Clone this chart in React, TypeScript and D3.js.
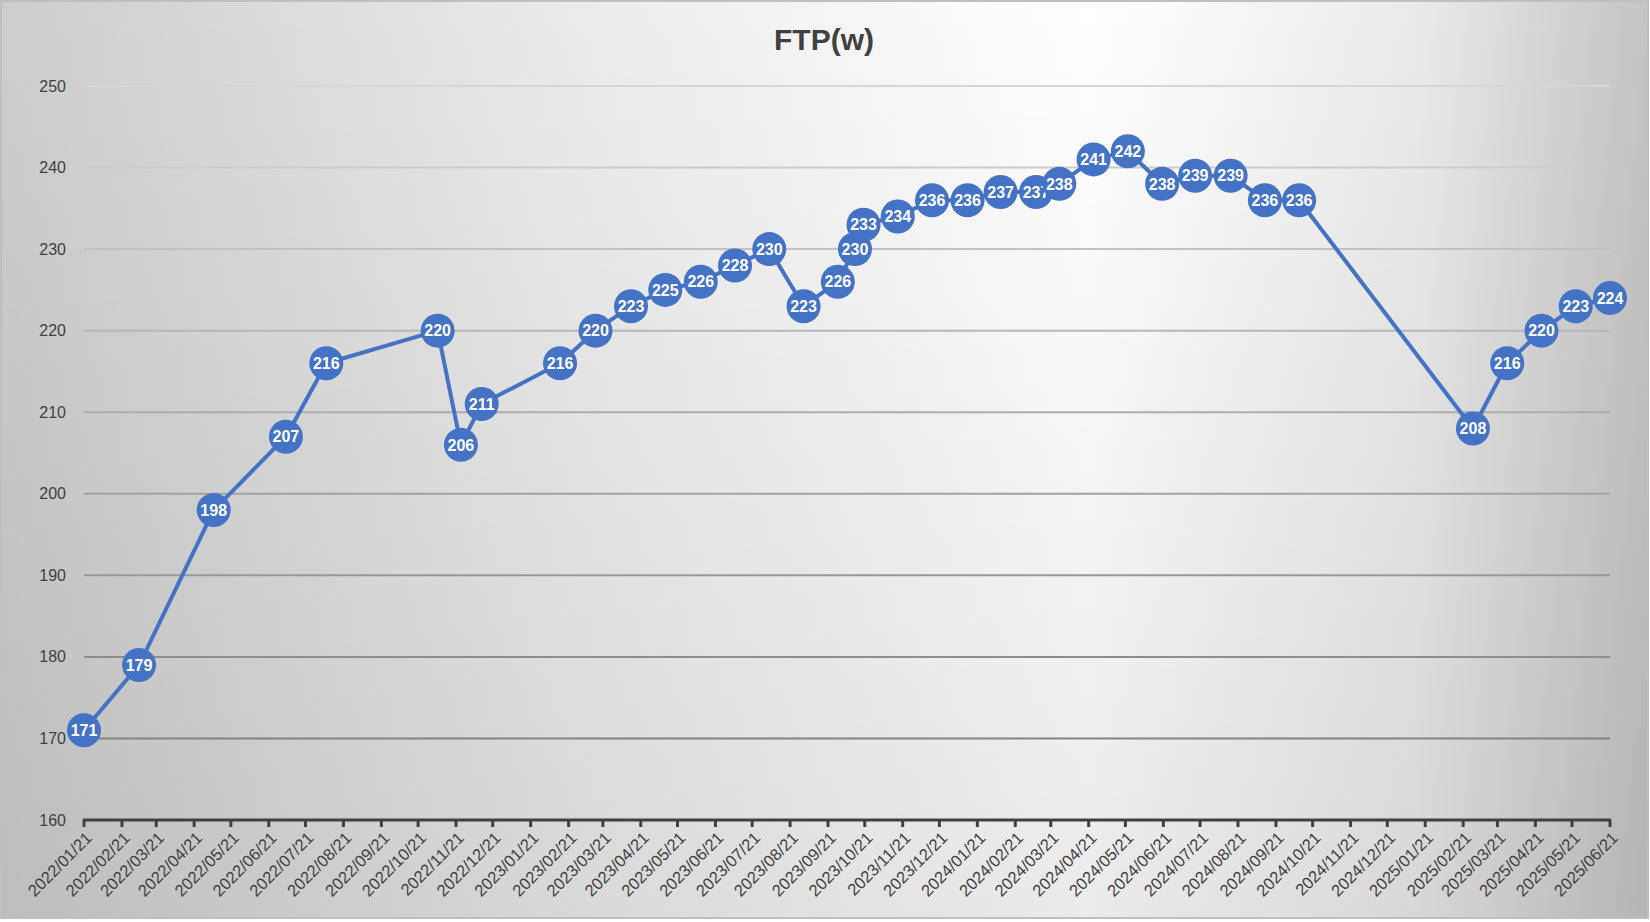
import React from "react";
import * as d3 from "d3";

// FTP test dates and results
const testDates = [
  "2022-01-21", "2022-03-07", "2022-05-07", "2022-07-05", "2022-08-07",
  "2022-11-06", "2022-11-25", "2022-12-12", "2023-02-14", "2023-03-15",
  "2023-04-13", "2023-05-11", "2023-06-09", "2023-07-07", "2023-08-04",
  "2023-09-01", "2023-09-29", "2023-10-13", "2023-10-20", "2023-11-17",
  "2023-12-15", "2024-01-13", "2024-02-09", "2024-03-09", "2024-03-28",
  "2024-04-25", "2024-05-23", "2024-06-20", "2024-07-17", "2024-08-15",
  "2024-09-12", "2024-10-10", "2025-03-01", "2025-03-29", "2025-04-26",
  "2025-05-24", "2025-06-21",
];
const ftpValues = [
  171, 179, 198, 207, 216, 220, 206, 211, 216, 220,
  223, 225, 226, 228, 230, 223, 226, 230, 233, 234,
  236, 236, 237, 237, 238, 241, 242, 238, 239, 239,
  236, 236, 208, 216, 220, 223, 224,
];
const yTicks = [160, 170, 180, 190, 200, 210, 220, 230, 240, 250];
const axisStart = "2022-01-21";
const axisEnd = "2025-06-21";
const title = "FTP(w)";

const W = 1650;
const H = 922;
const FONT = "'Liberation Sans', Arial, sans-serif";

const App: React.FC = () => {
  const parse = d3.timeParse("%Y-%m-%d");
  const fmt = d3.timeFormat("%Y/%m/%d");
  const start = parse(axisStart) as Date;
  const end = parse(axisEnd) as Date;

  const x = d3.scaleTime().domain([start, end]).range([84, 1610]);
  const y = d3.scaleLinear().domain([160, 250]).range([820, 86]);

  // monthly ticks on the 21st, like the excel date axis
  const monthCount = d3.timeMonth.count(start, end);
  const xTicks = d3.range(monthCount + 1).map((i) => d3.timeMonth.offset(start, i));

  const points = testDates.map((d, i) => ({ date: parse(d) as Date, value: ftpValues[i] }));

  const line = d3
    .line<{ date: Date; value: number }>()
    .x((d) => x(d.date))
    .y((d) => y(d.value));

  return (
    <div style={{ position: "absolute", left: 0, top: 0 }}>
      <svg width={W} height={H} style={{ display: "block" }}>
        <defs>
          <linearGradient id="bgH" x1="0" x2="1" y1="0" y2="0">
            <stop offset="0" stopColor="#cdcdcd" />
            <stop offset="0.35" stopColor="#ebebeb" />
            <stop offset="0.66" stopColor="#ffffff" />
            <stop offset="0.86" stopColor="#eaeaea" />
            <stop offset="1" stopColor="#c4c4c4" />
          </linearGradient>
          <linearGradient id="bgV" x1="0" x2="0" y1="0" y2="1">
            <stop offset="0" stopColor="#000" stopOpacity="0" />
            <stop offset="1" stopColor="#000" stopOpacity="0.08" />
          </linearGradient>
          <linearGradient
            id="gridGrad"
            gradientUnits="userSpaceOnUse"
            x1="0"
            x2="0"
            y1={y(250)}
            y2={y(170)}
          >
            <stop offset="0" stopColor="#d6d6d6" />
            <stop offset="1" stopColor="#838383" />
          </linearGradient>
        </defs>

        <rect x={0} y={0} width={W} height={H} fill="#fff" />
        <rect x={1} y={1} width={1647} height={917} fill="url(#bgH)" />
        <rect x={1} y={1} width={1647} height={917} fill="url(#bgV)" />
        <rect x={1} y={1} width={1647} height={917} fill="none" stroke="#bfbfbf" strokeWidth={2} />

        <text
          x={824}
          y={50}
          textAnchor="middle"
          fontFamily={FONT}
          fontWeight="bold"
          fontSize={30}
          fill="#404040"
        >
          {title}
        </text>

        {/* gridlines */}
        {yTicks
          .filter((t) => t !== 160)
          .map((t) => (
            <line
              key={t}
              x1={84}
              x2={1610}
              y1={y(t)}
              y2={y(t)}
              stroke="url(#gridGrad)"
              strokeWidth={2}
            />
          ))}

        {/* y labels */}
        {yTicks.map((t) => (
          <text
            key={t}
            x={66}
            y={y(t)}
            dy="0.35em"
            textAnchor="end"
            fontFamily={FONT}
            fontSize={16}
            fill="#404040"
          >
            {t}
          </text>
        ))}

        {/* x axis */}
        <line x1={83} x2={1611} y1={820} y2={820} stroke="#404040" strokeWidth={3} />
        {xTicks.map((t, i) => (
          <g key={i} transform={`translate(${x(t)},0)`}>
            <line x1={0} x2={0} y1={820} y2={827} stroke="#404040" strokeWidth={3} />
            <text
              transform={`translate(5,835) rotate(-45)`}
              textAnchor="end"
              dy="0.35em"
              fontFamily={FONT}
              fontSize={16.5}
              fill="#404040"
            >
              {fmt(t)}
            </text>
          </g>
        ))}

        {/* series */}
        <path d={line(points) || ""} fill="none" stroke="#4472c4" strokeWidth={4} strokeLinejoin="round" />
        {points.map((p, i) => (
          <g key={i} transform={`translate(${x(p.date)},${y(p.value)})`}>
            <circle r={17} fill="#4472c4" />
            <text
              textAnchor="middle"
              dy="0.36em"
              fontFamily={FONT}
              fontWeight="bold"
              fontSize={16}
              fill="#fff"
            >
              {p.value}
            </text>
          </g>
        ))}
      </svg>
    </div>
  );
};

export default App;
